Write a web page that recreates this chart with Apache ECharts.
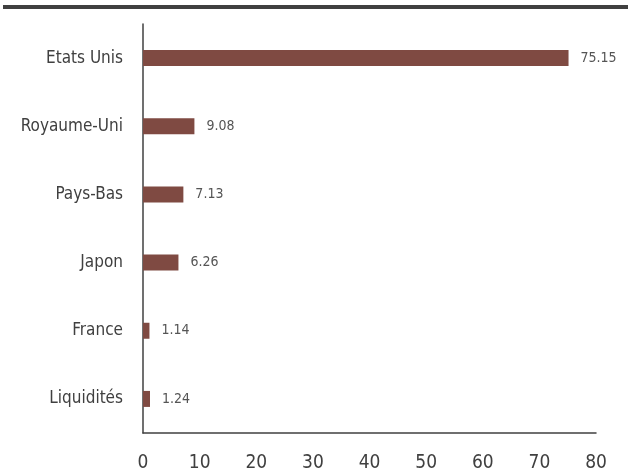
<!DOCTYPE html>
<html><head><meta charset="utf-8">
<script src="https://cdn.jsdelivr.net/npm/echarts@6/dist/echarts.min.js"></script>
<style>html,body{margin:0;padding:0;background:#fff}#c{width:628px;height:473px}
#bar{position:absolute;left:3px;top:5px;width:625px;height:4px;background:#404040}</style>
</head><body><div id="c"></div><div id="bar"></div>
<script>
var categories = ['Etats Unis','Royaume-Uni','Pays-Bas','Japon','France','Liquidités'];
var values = [75.15, 9.08, 7.13, 6.26, 1.14, 1.24];
var xTicks = [0,10,20,30,40,50,60,70,80];
var FONT = "'Liberation Sans Narrow','DejaVu Sans Condensed',sans-serif";
var chart = echarts.init(document.getElementById('c'));
chart.setOption({
  animation:false,
  grid:{left:143,right:32,top:24,bottom:39,containLabel:false},
  xAxis:{type:'value',min:xTicks[0],max:xTicks[xTicks.length-1],interval:10,
    axisLine:{show:true,lineStyle:{color:'#404040',width:1.5}},
    axisTick:{show:false},splitLine:{show:false},
    axisLabel:{color:'#404040',fontSize:19,fontFamily:FONT,margin:21}},
  yAxis:{type:'category',data:categories,inverse:true,
    axisLine:{show:true,lineStyle:{color:'#404040',width:1.5}},
    axisTick:{show:false},
    axisLabel:{color:'#404040',fontSize:17,fontFamily:FONT,margin:20}},
  series:[{type:'bar',data:values,barWidth:16,
    itemStyle:{color:'#7F4A42'},
    label:{show:true,position:'right',distance:12,color:'#555',fontSize:14,fontFamily:FONT,
      formatter:function(p){return p.value.toFixed(2);}}}]
});
</script></body></html>
